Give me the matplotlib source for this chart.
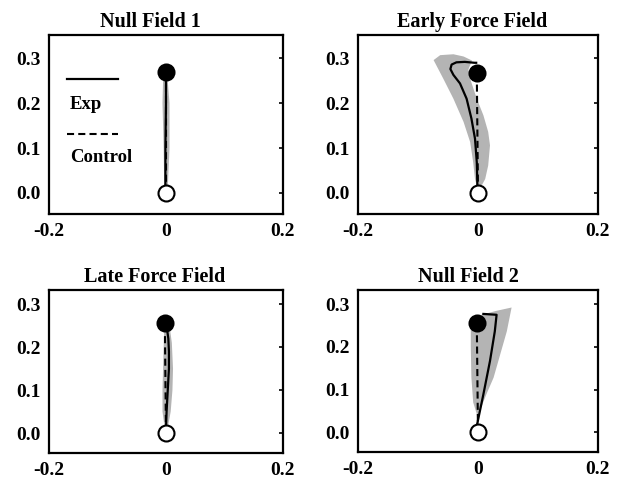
import matplotlib
matplotlib.use("Agg")
import matplotlib.pyplot as plt
import numpy as np

plt.rcParams['font.family'] = ['Liberation Serif', 'DejaVu Serif']
plt.rcParams['font.weight'] = 'bold'

titles = ["Null Field 1", "Early Force Field", "Late Force Field", "Null Field 2"]
xticks = [-0.2, 0.0, 0.2]
xticklabels = ["-0.2", "0", "0.2"]
yticks = [0.0, 0.1, 0.2, 0.3]
yticklabels = ["0.0", "0.1", "0.2", "0.3"]

# start / target positions
start_x = [0.0, 0.0, 0.0, 0.0]
start_y = [0.0, 0.0, 0.0, 0.0]
target_x = [0.0, -0.002, -0.002, -0.002]
target_y = [0.27, 0.267, 0.256, 0.256]

# experimental mean paths (solid)
exp_x = [
    [-0.001, -0.001, 0.0, 0.0],
    [0.0, -0.001, -0.002, -0.005, -0.011, -0.019, -0.030, -0.041, -0.046, -0.044, -0.036, -0.022, -0.006, -0.003],
    [0.0, 0.001, 0.003, 0.005, 0.005, 0.004, 0.001],
    [0.0, -0.002, 0.009, 0.020, 0.028, 0.031, 0.009],
]
exp_y = [
    [0.005, 0.1, 0.2, 0.265],
    [0.0, 0.016, 0.068, 0.121, 0.166, 0.210, 0.244, 0.263, 0.276, 0.286, 0.291, 0.292, 0.290, 0.290],
    [0.01, 0.05, 0.10, 0.15, 0.19, 0.22, 0.25],
    [0.005, 0.015, 0.089, 0.167, 0.236, 0.275, 0.277],
]

# variability band: left boundary (bottom->top) and right boundary (top->bottom)
band_left_x = [
    [-0.003, -0.004, -0.006, -0.005],
    [-0.002, -0.002, -0.005, -0.008, -0.013, -0.024, -0.041, -0.058, -0.074, -0.063, -0.041, -0.024, -0.010],
    [-0.003, -0.006, -0.006, -0.005, -0.004, -0.003],
    [0.0, -0.002, -0.008, -0.011, -0.012, -0.012, -0.008, 0.009, 0.030, 0.056],
]
band_left_y = [
    [0.01, 0.10, 0.20, 0.25],
    [0.005, 0.016, 0.031, 0.068, 0.113, 0.158, 0.210, 0.255, 0.296, 0.307, 0.309, 0.304, 0.295],
    [0.02, 0.05, 0.10, 0.15, 0.20, 0.24],
    [0.02, 0.043, 0.07, 0.128, 0.20, 0.25, 0.27, 0.276, 0.284, 0.292],
]
band_right_x = [
    [0.003, 0.006, 0.006, 0.003],
    [-0.016, -0.012, -0.002, 0.009, 0.017, 0.020, 0.017, 0.012, 0.006, 0.002],
    [0.006, 0.010, 0.012, 0.011, 0.008, 0.004],
    [0.048, 0.037, 0.026, 0.014, 0.003, 0.001],
]
band_right_y = [
    [0.25, 0.20, 0.10, 0.01],
    [0.275, 0.25, 0.21, 0.173, 0.136, 0.106, 0.061, 0.031, 0.016, 0.005],
    [0.25, 0.21, 0.15, 0.10, 0.05, 0.02],
    [0.236, 0.182, 0.128, 0.089, 0.05, 0.02],
]

legend_labels = ["Exp", "Control"]

fig = plt.figure(figsize=(6.18, 4.91), dpi=100)
positions = [
    [0.0793, 0.5642, 0.3786, 0.3646],
    [0.5793, 0.5642, 0.3883, 0.3646],
    [0.0793, 0.0774, 0.3786, 0.3320],
    [0.5793, 0.0794, 0.3883, 0.3300],
]
ylims = [(-0.047, 0.352), (-0.047, 0.352), (-0.046, 0.333), (-0.046, 0.333)]
title_x = [0.435, 0.475, 0.45, 0.46]
gray = '#b4b4b4'
dash = (0, (3.4, 2.0))

for i in range(4):
    ax = fig.add_axes(positions[i])
    px = list(band_left_x[i]) + list(band_right_x[i])
    py = list(band_left_y[i]) + list(band_right_y[i])
    ax.fill(px, py, color=gray, lw=0, zorder=1)
    ax.plot([start_x[i], target_x[i]], [start_y[i], target_y[i]], color='black',
            lw=1.5, linestyle=dash, zorder=2)
    ax.plot(exp_x[i], exp_y[i], color='black', lw=1.6, zorder=3)
    ax.plot(start_x[i], start_y[i], 'o', ms=11.5, mfc='white', mec='black', mew=1.5, zorder=4)
    ax.plot(target_x[i], target_y[i], 'o', ms=11.5, mfc='black', mec='black', mew=1.5, zorder=5)
    ax.set_xlim(-0.2, 0.2)
    ax.set_ylim(*ylims[i])
    ax.set_xticks(xticks)
    ax.set_xticklabels(xticklabels)
    ax.set_yticks(yticks)
    ax.set_yticklabels(yticklabels)
    ax.tick_params(axis='x', bottom=False, top=False, labelsize=14, pad=3)
    ax.tick_params(axis='y', left=False, right=True, direction='in', length=3,
                   width=1.2, labelsize=14, pad=6)
    for lab in ax.get_xticklabels() + ax.get_yticklabels():
        lab.set_fontweight('bold')
    for s in ax.spines.values():
        s.set_linewidth(1.6)
    ax.set_title(titles[i], fontsize=14.5, fontweight='bold', pad=6, x=title_x[i])

    if i == 0:
        ax.plot([-0.170, -0.0815], [0.254, 0.254], color='black', lw=1.6)
        ax.text(-0.164, 0.198, legend_labels[0], fontsize=13.5, fontweight='bold',
                ha='left', va='center')
        ax.plot([-0.170, -0.0815], [0.131, 0.131], color='black', lw=1.5,
                linestyle=dash)
        ax.text(-0.164, 0.079, legend_labels[1], fontsize=13.5, fontweight='bold',
                ha='left', va='center')

fig.savefig("out.png", dpi=100)
